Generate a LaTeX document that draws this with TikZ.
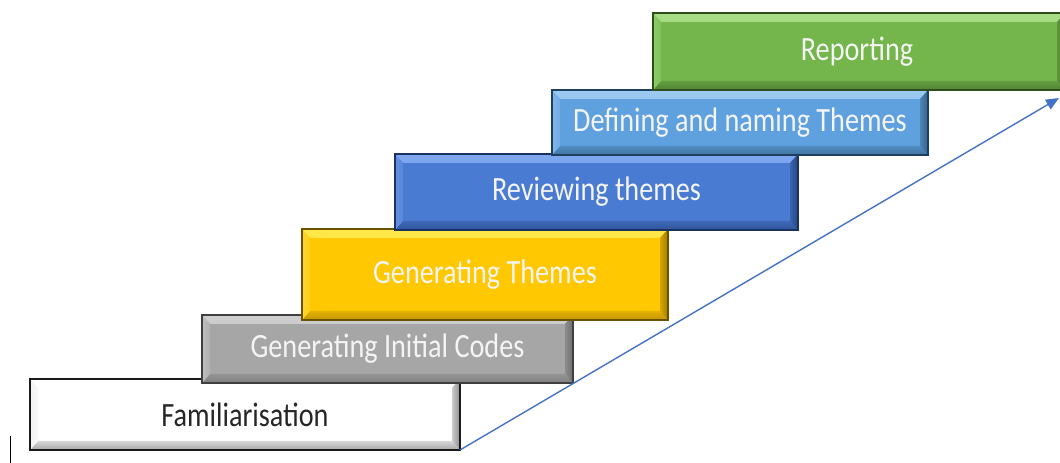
\documentclass[tikz,border=0pt]{standalone}
\usepackage{fontspec}
\setmainfont{Carlito}
\usetikzlibrary{arrows.meta}

% fill, top bevel, left bevel, bottom bevel, right bevel, border
\definecolor{famFill}{HTML}{FFFFFF}
\definecolor{famTop}{HTML}{FFFFFF}
\definecolor{famLeft}{HTML}{F2F2F2}
\definecolor{famBot}{HTML}{A6A6A6}
\definecolor{famRight}{HTML}{8C8C8C}
\definecolor{famLine}{HTML}{1A1A1A}

\definecolor{codFill}{HTML}{A6A6A6}
\definecolor{codTop}{HTML}{CFCFCF}
\definecolor{codLeft}{HTML}{BDBDBD}
\definecolor{codBot}{HTML}{7F7F7F}
\definecolor{codRight}{HTML}{6E6E6E}
\definecolor{codLine}{HTML}{404040}

\definecolor{genFill}{HTML}{FFC800}
\definecolor{genTop}{HTML}{FFE84A}
\definecolor{genLeft}{HTML}{FFD52E}
\definecolor{genBot}{HTML}{C29400}
\definecolor{genRight}{HTML}{A37C00}
\definecolor{genLine}{HTML}{6B5200}

\definecolor{revFill}{HTML}{4A7BD2}
\definecolor{revTop}{HTML}{7FA8F0}
\definecolor{revLeft}{HTML}{6591E0}
\definecolor{revBot}{HTML}{2F5399}
\definecolor{revRight}{HTML}{264782}
\definecolor{revLine}{HTML}{1B3260}

\definecolor{defFill}{HTML}{5FA0DE}
\definecolor{defTop}{HTML}{9CCAF2}
\definecolor{defLeft}{HTML}{80B7EA}
\definecolor{defBot}{HTML}{41739F}
\definecolor{defRight}{HTML}{376289}
\definecolor{defLine}{HTML}{1F3F5E}

\definecolor{repFill}{HTML}{74B54C}
\definecolor{repTop}{HTML}{A8DE86}
\definecolor{repLeft}{HTML}{8CCB66}
\definecolor{repBot}{HTML}{4F8232}
\definecolor{repRight}{HTML}{43702A}
\definecolor{repLine}{HTML}{2E4F1C}

\definecolor{lightText}{HTML}{F4F4F4}
\definecolor{darkText}{HTML}{262626}
\definecolor{arrowBlue}{HTML}{4472C4}

\newcommand{\steplabel}[1]{\scalebox{0.83}[1]{#1}}

\tikzset{
  x=1pt, y=1pt,
  bevel/.style={
    fill=#1Fill, draw=#1Line, line width=1.6pt,
    rectangle, inner sep=0pt, outer sep=0pt,
    font=\fontsize{34}{40}\selectfont,
    path picture={
      \shade[top color=#1Top, bottom color=#1Top!40!#1Fill]
        (path picture bounding box.north west) -- (path picture bounding box.north east)
        -- ([xshift=-8pt,yshift=-9pt]path picture bounding box.north east)
        -- ([xshift=8pt,yshift=-9pt]path picture bounding box.north west) -- cycle;
      \shade[bottom color=#1Bot, top color=#1Bot!45!#1Fill]
        (path picture bounding box.south west) -- (path picture bounding box.south east)
        -- ([xshift=-8pt,yshift=9pt]path picture bounding box.south east)
        -- ([xshift=8pt,yshift=9pt]path picture bounding box.south west) -- cycle;
      \shade[left color=#1Left, right color=#1Left!50!#1Fill]
        (path picture bounding box.north west) -- (path picture bounding box.south west)
        -- ([xshift=8pt,yshift=9pt]path picture bounding box.south west)
        -- ([xshift=8pt,yshift=-9pt]path picture bounding box.north west) -- cycle;
      \shade[right color=#1Right, left color=#1Right!45!#1Fill]
        (path picture bounding box.north east) -- (path picture bounding box.south east)
        -- ([xshift=-8pt,yshift=9pt]path picture bounding box.south east)
        -- ([xshift=-8pt,yshift=-9pt]path picture bounding box.north east) -- cycle;
    }
  },
  steparrow/.style={-{Triangle[length=13pt,width=11pt]}, line width=1.4pt, draw=arrowBlue}
}

\begin{document}
\begin{tikzpicture}
  \useasboundingbox (0,0) rectangle (1060,463);

  % the six stages, drawn from the lowest step upwards
  \node[bevel=fam, minimum width=430, minimum height=71, text=darkText]
    (fam) at (245,48.5) {\steplabel{Familiarisation}};
  \node[bevel=cod, minimum width=371, minimum height=68, text=lightText]
    (cod) at (387.5,114) {\steplabel{Generating Initial Codes}};
  \node[bevel=gen, minimum width=366, minimum height=91, text=lightText]
    (gen) at (485,188.5) {\raisebox{5pt}{\steplabel{Generating Themes}}};
  \node[bevel=rev, minimum width=403, minimum height=76, text=lightText]
    (rev) at (596.5,271) {\steplabel{Reviewing themes}};
  \node[bevel=def, minimum width=376, minimum height=65, text=lightText]
    (def) at (740,340.5) {\steplabel{Defining and naming Themes}};
  \node[bevel=rep, minimum width=412, minimum height=77, text=lightText, anchor=west]
    (rep) at (653,411.5) {\hspace*{-4pt}\steplabel{Reporting}};

  % rising arrow along the steps
  \coordinate (arrowEnd) at (1059,365);
  \draw[steparrow] (fam.south east) -- (arrowEnd);

  % small vertical stroke at the lower left
  \draw[line width=1.3pt, black] (10.5,0) -- (10.5,27);
\end{tikzpicture}
\end{document}
